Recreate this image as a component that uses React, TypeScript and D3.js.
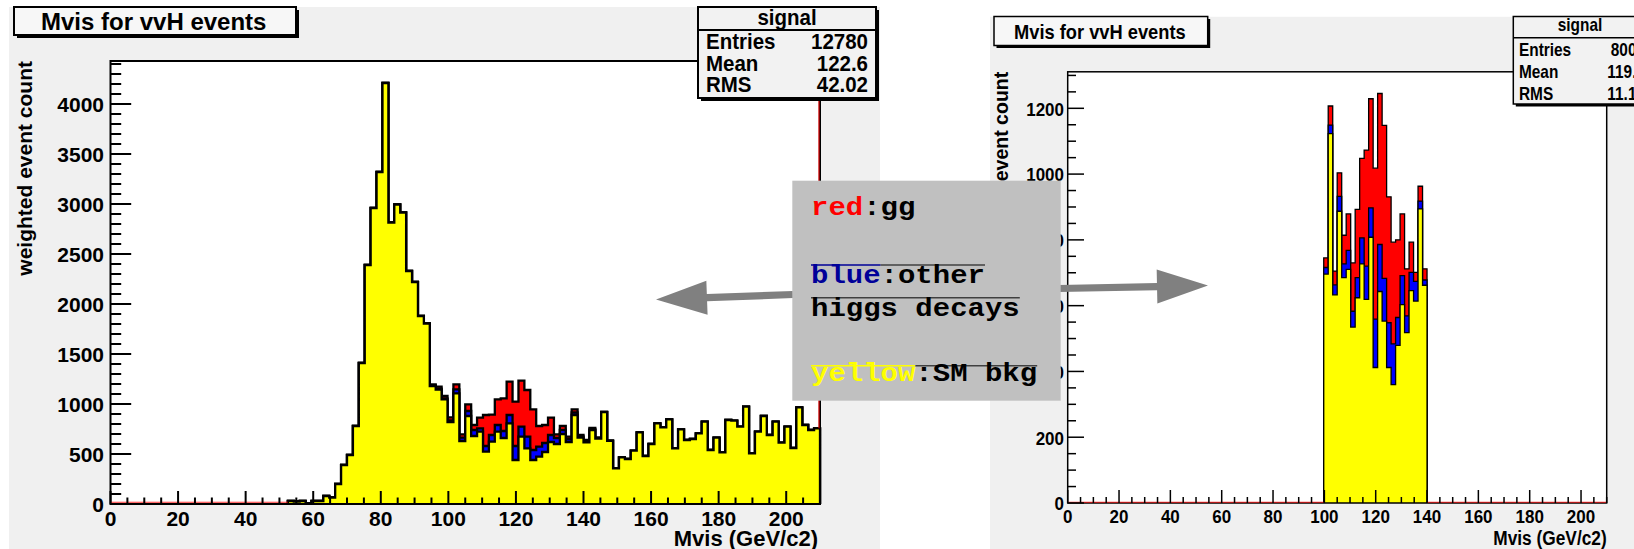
import React from "react";
import * as d3 from "d3";

// ---------------- data ----------------
const N_BINS = 120;
const X_MIN = 0;
const X_MAX = 210;

// left panel: SM background (yellow), starting at bin 30
const leftBkgStart = 30;
const leftBkg = [
  30, 25, 30, 5, 30, 30, 80, 65, 200, 390, 490, 780, 1410, 2390, 2960, 3320, 4210, 2815, 2995, 2915, 2330, 2220, 1880, 1805,
  1180, 1143, 1047, 820, 1107, 630, 880, 680, 723, 523, 623, 723, 660, 807, 440, 673, 557, 440, 473, 520, 620, 600, 700, 620, 890, 663, 617, 740, 655, 918, 632,
  357, 467, 450, 533, 717, 480, 600, 807, 767, 847, 557, 747, 640, 650, 707, 823, 540, 663, 517, 840, 833, 773, 973, 507, 723, 880, 690, 823, 613, 773, 560, 967, 790, 740, 757,
];
// left panel: signal, starting at bin 54
const leftSigStart = 54;
const leftOther = [7, 10, 8, 17, 40, 34, 50, 60, 34, 57, 67, 67, 70, 83, 140, 100, 116, 100, 100, 90, 70, 60, 40, 30, 25, 12, 8, 5, 3, 0, 0];
const leftGG = [10, 20, 25, 30, 50, 33, 67, 50, 106, 310, 203, 257, 327, 333, 443, 460, 467, 407, 207, 180, 173, 37, 40, 23, 32, 15, 15, 15, 7, 5, 3];

// right panel (100 < Mvis < 140), starting at bin 57
const rightStart = 57;
const rightBkg = [696, 1123, 633, 887, 685, 710, 535, 624, 727, 619, 808, 412, 643, 553, 412, 360, 479, 603, 518, 646, 614, 894, 662];
const rightOther = [20, 26, 30, 45, 42, 58, 48, 61, 79, 101, 89, 147, 143, 130, 136, 124, 85, 88, 51, 55, 60, 24, 16];
const rightGG = [29, 58, 42, 72, 87, 111, 147, 208, 242, 353, 332, 459, 459, 465, 383, 309, 236, 188, 143, 92, 27, 45, 34];

const xTickValues = [0, 20, 40, 60, 80, 100, 120, 140, 160, 180, 200];
const leftYTickValues = [0, 500, 1000, 1500, 2000, 2500, 3000, 3500, 4000];
const rightYTickValues = [0, 200, 400, 600, 800, 1000, 1200];

const titleText = "Mvis for vvH events";
const xTitleText = "Mvis (GeV/c2)";
const yTitleText = "weighted event count";
const statsTitle = "signal";
const leftStats = [["Entries", "12780"], ["Mean", "122.6"], ["RMS", "42.02"]];
const rightStats = [["Entries", "8000"], ["Mean", "119.8"], ["RMS", "11.17"]];

const legendLines = [
  { key: "red", keyColor: "#ff0000", rest: ":gg" },
  { key: "blue", keyColor: "#000099", rest: ":other" },
  { key: "", keyColor: "#000", rest: "higgs decays" },
  { key: "yellow", keyColor: "#ffff00", rest: ":SM bkg" },
];

// ---------------- helpers ----------------
const SANS = "'Liberation Sans', Arial, Helvetica, sans-serif";
const MONO = "'Liberation Mono', 'Courier New', Courier, monospace";

function expand(start: number, arr: number[]): number[] {
  const out = new Array(N_BINS).fill(0);
  arr.forEach((v, i) => (out[start + i] = v));
  return out;
}

function Txt(props: any) {
  const { x, y, size, sy = 1, anchor = "start", weight = "bold", fill = "#000", family = SANS, children } = props;
  return (
    <text
      transform={`translate(${x},${y}) scale(1,${sy})`}
      fontSize={size}
      fontFamily={family}
      fontWeight={weight}
      textAnchor={anchor}
      fill={fill}
    >
      {children}
    </text>
  );
}

function Stack({ layers, xs, ys, lw }: any) {
  const edges = d3.range(N_BINS + 1).map((i) => X_MIN + (i * (X_MAX - X_MIN)) / N_BINS);
  const area = d3
    .area<number[]>()
    .x((d) => xs(d[0]))
    .y0(ys(0))
    .y1((d) => ys(d[1]))
    .curve(d3.curveStepAfter);
  const line = d3
    .line<number[]>()
    .x((d) => xs(d[0]))
    .y((d) => ys(d[1]))
    .curve(d3.curveStepAfter);
  return (
    <g>
      {layers.map((layer: any, i: number) => {
        const v: number[] = layer.values;
        const f = v.findIndex((a) => a > 0);
        let l = -1;
        v.forEach((a, k) => {
          if (a > 0) l = k;
        });
        if (f < 0) return null;
        const pts: number[][] = [[edges[f], 0]];
        for (let k = f; k <= l; k++) pts.push([edges[k], v[k]]);
        pts.push([edges[l + 1], v[l]]);
        pts.push([edges[l + 1], 0]);
        return (
          <g key={i}>
            <path d={area(pts) || ""} fill={layer.fill} />
            <path d={line(pts) || ""} fill="none" stroke="#000" strokeWidth={lw} strokeLinejoin="miter" />
          </g>
        );
      })}
    </g>
  );
}

function Panel({ cfg, bkg, other, gg, yTicks, stats }: any) {
  const { frame } = cfg;
  const xs = d3.scaleLinear().domain([X_MIN, X_MAX]).range([frame.x0, frame.x1]);
  const ys = d3.scaleLinear().domain([0, cfg.yMax]).range([frame.y1, frame.y0]);
  const c1 = bkg;
  const c2 = bkg.map((v: number, i: number) => v + other[i]);
  const c3 = c2.map((v: number, i: number) => v + gg[i]);
  const layers = [
    { values: c3, fill: "#ff0000" },
    { values: c2, fill: "#0000ff" },
    { values: c1, fill: "#ffff00" },
  ];
  const xMinor = d3.range(X_MIN, X_MAX + 0.001, cfg.xMinor);
  const yMinor = d3.range(0, cfg.yMax, cfg.yMinor);
  const edges = d3.range(N_BINS + 1).map((i) => X_MIN + (i * (X_MAX - X_MIN)) / N_BINS);

  // zero-content stretches along the baseline (drawn in the histogram's red line colour)
  const zeroRuns: number[][] = [];
  let runStart = -1;
  for (let k = 0; k <= N_BINS; k++) {
    const z = k < N_BINS && c3[k] === 0;
    if (z && runStart < 0) runStart = k;
    if (!z && runStart >= 0) {
      zeroRuns.push([edges[runStart], edges[k]]);
      runStart = -1;
    }
  }
  const st = cfg.stats;
  const tb = cfg.title;
  return (
    <g>
      <rect x={cfg.pad.x} y={cfg.pad.y} width={cfg.pad.w} height={cfg.pad.h} fill="#f0f0f0" />
      <rect x={frame.x0} y={frame.y0} width={frame.x1 - frame.x0} height={frame.y1 - frame.y0} fill="#ffffff" />
      <Stack layers={layers} xs={xs} ys={ys} lw={cfg.histLw} />
      <rect
        x={frame.x0}
        y={frame.y0}
        width={frame.x1 - frame.x0}
        height={frame.y1 - frame.y0}
        fill="none"
        stroke="#000"
        strokeWidth={cfg.lw}
      />
      {zeroRuns.map((r, i) => (
        <line
          key={i}
          x1={xs(r[0])}
          x2={xs(r[1])}
          y1={frame.y1 - cfg.redOff}
          y2={frame.y1 - cfg.redOff}
          stroke="#ff0000"
          strokeWidth={1.1}
          opacity={0.8}
        />
      ))}
      {cfg.redEdge && (
        <line
          x1={frame.x1 - 1}
          x2={frame.x1 - 1}
          y1={frame.y0}
          y2={ys(c3[N_BINS - 1])}
          stroke="#cc0000"
          strokeWidth={1.3}
        />
      )}
      {/* x ticks */}
      {xMinor.map((v: number) => {
        const major = Math.abs(v % cfg.xMajor) < 1e-6;
        const len = major ? cfg.xMajorLen : cfg.xMinorLen;
        return (
          <line key={"xt" + v} x1={xs(v)} x2={xs(v)} y1={frame.y1} y2={frame.y1 - len} stroke="#000" strokeWidth={cfg.lw} />
        );
      })}
      {/* y ticks */}
      {yMinor.map((v: number) => {
        const major = Math.abs(v % cfg.yMajor) < 1e-6;
        const len = major ? cfg.yMajorLen : cfg.yMinorLen;
        return (
          <line key={"yt" + v} x1={frame.x0} x2={frame.x0 + len} y1={ys(v)} y2={ys(v)} stroke="#000" strokeWidth={cfg.lw} />
        );
      })}
      {xTickValues.map((v) => (
        <Txt key={"xl" + v} x={xs(v)} y={cfg.xLabY} size={cfg.tickFont} sy={cfg.tickSy} anchor="middle">
          {String(v)}
        </Txt>
      ))}
      {yTicks.map((v: number) => (
        <Txt key={"yl" + v} x={cfg.yLabX} y={ys(v) + cfg.yLabDy} size={cfg.tickFont} sy={cfg.tickSy} anchor="end">
          {String(v)}
        </Txt>
      ))}
      <Txt x={cfg.xTitle.x} y={cfg.xTitle.y} size={cfg.xTitle.size} sy={cfg.xTitle.sy} anchor="end">
        {xTitleText}
      </Txt>
      <text
        transform={`translate(${cfg.yTitle.x},${cfg.yTitle.y}) rotate(-90)`}
        fontSize={cfg.yTitle.size}
        fontFamily={SANS}
        fontWeight="bold"
        textAnchor="end"
      >
        {yTitleText}
      </text>
      {/* title box */}
      <rect x={tb.x + tb.shadow} y={tb.y + tb.shadow} width={tb.w} height={tb.h} fill="#000" />
      <rect x={tb.x} y={tb.y} width={tb.w} height={tb.h} fill="#f7f7f7" stroke="#000" strokeWidth={cfg.lw} />
      <Txt x={tb.tx} y={tb.ty} size={tb.size} sy={tb.sy}>
        {titleText}
      </Txt>
      {/* stats box */}
      <rect x={st.x + st.shadow} y={st.y + st.shadow} width={st.w} height={st.h} fill="#000" />
      <rect x={st.x} y={st.y} width={st.w} height={st.h} fill="#f2f2f2" stroke="#000" strokeWidth={cfg.lw} />
      <line x1={st.x} x2={st.x + st.w} y1={st.lineY} y2={st.lineY} stroke="#000" strokeWidth={cfg.lw} />
      <Txt x={st.cx} y={st.hy} size={st.size} sy={st.sy} anchor="middle" weight={st.weight}>
        {statsTitle}
      </Txt>
      {stats.map((r: string[], i: number) => (
        <g key={r[0]}>
          <Txt x={st.lx} y={st.rows[i]} size={st.size} sy={st.sy} weight={st.weight}>
            {r[0]}
          </Txt>
          <Txt x={st.vx} y={st.rows[i]} size={st.size} sy={st.sy} weight={st.weight} anchor="end">
            {r[1]}
          </Txt>
        </g>
      ))}
    </g>
  );
}

const leftCfg = {
  pad: { x: 9, y: 7, w: 871, h: 542 },
  frame: { x0: 110.5, x1: 820, y0: 61, y1: 504 },
  yMax: 4430,
  xMajor: 20,
  xMinor: 5,
  yMajor: 500,
  yMinor: 100,
  xMajorLen: 13,
  xMinorLen: 6.5,
  yMajorLen: 20.7,
  yMinorLen: 10.7,
  lw: 2,
  histLw: 2.3,
  redOff: 1.8,
  redEdge: true,
  tickFont: 21,
  tickSy: 1,
  yLabX: 104,
  yLabDy: 8,
  xLabY: 526,
  xTitle: { x: 818, y: 546, size: 22, sy: 1 },
  yTitle: { x: 32, y: 61, size: 21 },
  title: { x: 14, y: 7, w: 282, h: 28, tx: 41, ty: 30, size: 24, sy: 1, shadow: 3 },
  stats: { x: 698, y: 7, w: 178, h: 91, shadow: 3, lineY: 30, cx: 787, hy: 24.5, lx: 706, vx: 868, rows: [49, 71, 92], size: 20.5, sy: 1.05, weight: "bold" },
};

const rightCfg = {
  pad: { x: 990, y: 16.8, w: 644, h: 532.2 },
  frame: { x0: 1067.7, x1: 1606.7, y0: 71.8, y1: 503 },
  yMax: 1311,
  xMajor: 20,
  xMinor: 5,
  yMajor: 200,
  yMinor: 50,
  xMajorLen: 13,
  xMinorLen: 6,
  yMajorLen: 16.3,
  yMinorLen: 8.3,
  lw: 1.5,
  histLw: 1.3,
  redOff: 0.8,
  redEdge: false,
  tickFont: 17,
  tickSy: 1.12,
  yLabX: 1064,
  yLabDy: 7.3,
  xLabY: 523,
  xTitle: { x: 1606.7, y: 545, size: 17.3, sy: 1.12 },
  yTitle: { x: 1008, y: 71.8, size: 19.5 },
  title: { x: 994, y: 16.5, w: 213.7, h: 29, tx: 1014, ty: 38.5, size: 18.3, sy: 1.12, shadow: 2.5 },
  stats: { x: 1513.3, y: 16.5, w: 134, h: 87.5, shadow: 2.5, lineY: 37.8, cx: 1580, hy: 31, lx: 1519, vx: 1645, rows: [56, 77.7, 99.7], size: 15.4, sy: 1.22, weight: "bold" },
};

function arrowPoints(sx: number, sy: number, tx: number, ty: number, hl: number, hw: number, w: number) {
  const dx = tx - sx;
  const dy = ty - sy;
  const L = Math.hypot(dx, dy);
  const ux = dx / L;
  const uy = dy / L;
  const nx = -uy;
  const ny = ux;
  const bx = tx - ux * hl;
  const by = ty - uy * hl;
  const p = [
    [sx + nx * w, sy + ny * w],
    [bx + nx * w, by + ny * w],
    [bx + nx * hw, by + ny * hw],
    [tx, ty],
    [bx - nx * hw, by - ny * hw],
    [bx - nx * w, by - ny * w],
    [sx - nx * w, sy - ny * w],
  ];
  return p.map((q) => q.join(",")).join(" ");
}

function Legend() {
  const bx = 792.3;
  const by = 180.7;
  const fs = 29;
  const cw = fs * 0.6;
  const tx = 811;
  const baselines = [215, 282.5, 316, 381];
  const overlines = [
    null,
    { y: 265, split: 4, end: 10 },
    { y: 297.7, split: 0, end: 12 },
    { y: 365.7, split: 6, end: 13 },
  ];
  return (
    <g>
      <rect x={bx} y={by} width={268.4} height={220} fill="#c0c0c0" />
      {legendLines.map((ln, i) => {
        const ov = overlines[i];
        return (
          <g key={i}>
            {ov && ov.split > 0 && (
              <line x1={tx} x2={tx + ov.split * cw} y1={ov.y} y2={ov.y} stroke={ln.keyColor} strokeWidth={1.6} />
            )}
            {ov && (
              <line x1={tx + ov.split * cw} x2={tx + ov.end * cw} y1={ov.y} y2={ov.y} stroke="#404040" strokeWidth={1.6} />
            )}
            <text
              transform={`translate(${tx},${baselines[i]}) scale(1,0.88)`}
              fontFamily={MONO}
              fontWeight="bold"
              fontSize={fs}
            >
              {ln.key && <tspan fill={ln.keyColor}>{ln.key}</tspan>}
              <tspan fill="#000">{ln.rest}</tspan>
            </text>
          </g>
        );
      })}
    </g>
  );
}

export default function App() {
  const lb = expand(leftBkgStart, leftBkg);
  const lo = expand(leftSigStart, leftOther);
  const lg = expand(leftSigStart, leftGG);
  const rb = expand(rightStart, rightBkg);
  const ro = expand(rightStart, rightOther);
  const rg = expand(rightStart, rightGG);
  return (
    <svg
      width={1634}
      height={549}
      viewBox="0 0 1634 549"
      style={{ position: "absolute", left: 0, top: 0, background: "#ffffff" }}
    >
      <rect x={0} y={0} width={1634} height={549} fill="#ffffff" />
      <Panel cfg={leftCfg} bkg={lb} other={lo} gg={lg} yTicks={leftYTickValues} stats={leftStats} />
      <Panel cfg={rightCfg} bkg={rb} other={ro} gg={rg} yTicks={rightYTickValues} stats={rightStats} />
      <polygon points={arrowPoints(793, 294.5, 656, 299.5, 51, 17, 3.6)} fill="#808080" />
      <polygon points={arrowPoints(1059, 288.5, 1208, 285.5, 51, 17, 3.6)} fill="#808080" />
      <Legend />
    </svg>
  );
}
